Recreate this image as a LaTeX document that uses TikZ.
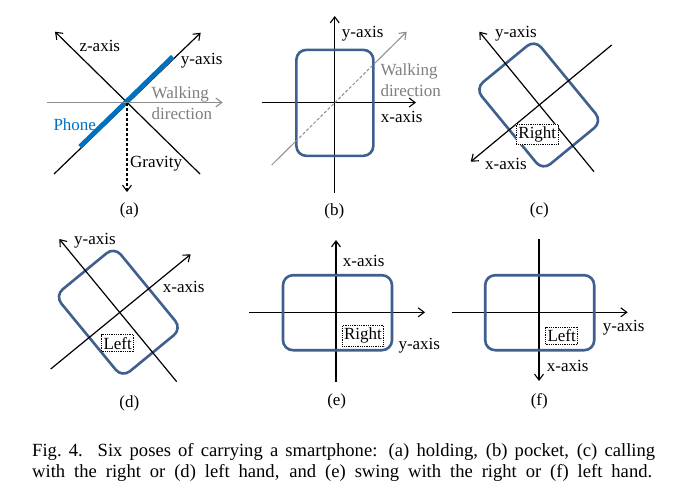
\documentclass[tikz,border=0pt]{standalone}
\usepackage{fontspec}
\setmainfont{Liberation Serif}
\usetikzlibrary{arrows.meta,calc}
\definecolor{phoneblue}{HTML}{0070C0}
\definecolor{framecol}{HTML}{3F5F8F}
\definecolor{walkgray}{HTML}{8C8C8C}
\definecolor{textgray}{HTML}{7F7F7F}
\begin{document}
\begin{tikzpicture}[x=1pt,y=-1pt,
  font=\fontsize{17}{20.5}\selectfont,
  axis/.style={line width=1.2pt, draw=black},
  arr/.style={-{Straight Barb[length=6pt,width=9pt,line width=1.1pt]}},
  walk/.style={line width=1.2pt, draw=walkgray},
  phonebox/.style={draw=framecol, line width=2.6pt, rounded corners=10pt, inner sep=0pt},
  portrait/.style={phonebox, minimum width=77pt, minimum height=106pt},
  landscape/.style={phonebox, minimum width=109pt, minimum height=75pt},
  lbl/.style={inner sep=0pt, anchor=west},
  sub/.style={inner sep=0pt},
  hand/.style={draw=black, densely dotted, line width=0.8pt, inner xsep=2pt, inner ysep=2.5pt},
  captxt/.style={anchor=base west, inner sep=0pt, font=\fontsize{18.6}{22}\selectfont},
]
\fill[white] (0,0) rectangle (674,491);
\useasboundingbox (0,0) rectangle (674,491);

% ---------------- (a) ----------------
\coordinate (aO) at (126,103);
\coordinate (azT) at (55,31.7);
\coordinate (azB) at (200,174);
\coordinate (ayB) at (54,174);
\coordinate (ayT) at (200.7,32.7);
\coordinate (awL) at (46.7,102.5);
\coordinate (awR) at (222.7,102.5);
\coordinate (apL) at (80,146.7);
\coordinate (apR) at (172.7,56.7);
\coordinate (agB) at (127,192);
\draw[axis,arr] (azB) -- (azT);
\draw[axis,arr] (ayB) -- (ayT);
\draw[phoneblue, line width=4.8pt] (apL) -- (apR);
\draw[walk,arr] (awL) -- (awR);
\draw[axis,dashed,dash pattern=on 3pt off 2pt,arr] (127,103) -- (agB);
\node[lbl] (azl) at (79.3,46) {z-axis};
\node[lbl] (ayl) at (180.7,61) {y-axis};
\node[lbl, text=textgray, align=left] (awl) at (151.5,103) {Walking\\direction};
\node[lbl, text=phoneblue] (apl) at (53.3,124.3) {Phone};
\node[lbl] (agl) at (130,164) {Gravity};
\node[sub] (capa) at (129.3,210) {(a)};

% ---------------- (b) ----------------
\coordinate (bB) at (334.7,192.7);
\coordinate (bT) at (334.7,16);
\coordinate (bL) at (261.7,102.5);
\coordinate (bR) at (416,102.5);
\coordinate (bwS) at (271.7,165);
\coordinate (bwE) at (406.7,31.7);
\coordinate (bw1) at ($(bwS)!0.178!(bwE)$);
\coordinate (bw2) at ($(bwS)!0.758!(bwE)$);
\draw[axis,arr] (bB) -- (bT);
\draw[axis,arr] (bL) -- (bR);
\node[portrait] (bphone) at (334.85,102.85) {};
\draw[walk,line width=1pt] (bwS) -- (bw1);
\draw[walk,line width=1pt,dash pattern=on 3pt off 2pt] (bw1) -- (bw2);
\draw[walk,line width=1pt,arr] (bw2) -- (bwE);
\node[lbl] (byl) at (341.7,34) {y-axis};
\node[lbl, text=textgray, align=left] (bwl) at (380.3,80.4) {Walking\\direction};
\node[lbl] (bxl) at (380.7,117.3) {x-axis};
\node[sub] (capb) at (334.3,211) {(b)};

% ---------------- (c) ----------------
\node[portrait, rotate=39.4] (cphone) at (538.7,105) {};
\coordinate (cyS) at (594,171.7);
\coordinate (cyT) at (479.3,31.7);
\coordinate (cxS) at (611.7,45);
\coordinate (cxT) at (470.7,161.7);
\draw[axis,arr] (cyS) -- (cyT);
\draw[axis,arr] (cxS) -- (cxT);
\node[hand, fill=white] (cright) at (537.3,134.5) {Right};
\node[lbl] (cyl) at (495,34) {y-axis};
\node[lbl] (cxl) at (485,164) {x-axis};
\node[sub] (capc) at (539.3,210) {(c)};

% ---------------- (d) ----------------
\node[portrait, rotate=39.4] (dphone) at (118.3,312.2) {};
\coordinate (dyS) at (176.7,381.7);
\coordinate (dyT) at (59.3,239);
\coordinate (dxS) at (50.7,369);
\coordinate (dxT) at (190.7,254.3);
\draw[axis,arr] (dyS) -- (dyT);
\draw[axis,arr] (dxS) -- (dxT);
\node[hand, fill=white] (dleft) at (117.7,343.3) {Left};
\node[lbl] (dyl) at (74,241) {y-axis};
\node[lbl] (dxl) at (162.7,286.7) {x-axis};
\node[sub] (capd) at (129.3,403.3) {(d)};

% ---------------- (e) ----------------
\coordinate (eB) at (336,381.7);
\coordinate (eT) at (336,240);
\coordinate (eL) at (249.3,312.3);
\coordinate (eR) at (425,312.3);
\draw[axis,arr] (eB) -- (eT);
\draw[axis,arr] (eL) -- (eR);
\node[landscape] (ephone) at (337.5,312.7) {};
\node[hand] (eright) at (363,335.8) {Right};
\node[lbl] (exl) at (342.7,261) {x-axis};
\node[lbl] (eyl) at (398.3,345.7) {y-axis};
\node[sub] (cape) at (336.7,401.7) {(e)};

% ---------------- (f) ----------------
\coordinate (fT) at (539,239);
\coordinate (fB) at (539,381);
\coordinate (fL) at (451.7,312.3);
\coordinate (fR) at (627.7,312.3);
\draw[axis,arr] (fT) -- (fB);
\draw[axis,arr] (fL) -- (fR);
\node[landscape] (fphone) at (539.7,312.7) {};
\node[hand] (fleft) at (561.7,335.8) {Left};
\node[lbl] (fyl) at (602.7,327.3) {y-axis};
\node[lbl] (fxl) at (546.7,366) {x-axis};
\node[sub] (capf) at (539.3,401.7) {(f)};

% ---------------- caption ----------------
\node[captxt] (cap1) at (32,456)
  {\makebox[623pt][s]{Fig.~4.\hspace{0.8em}Six poses of carrying a smartphone: (a) holding, (b) pocket, (c) calling}};
\node[captxt] (cap2) at (32,477)
  {\makebox[620pt][s]{with the right or (d) left hand, and (e) swing with the right or (f) left hand.}};
\end{tikzpicture}
\end{document}
